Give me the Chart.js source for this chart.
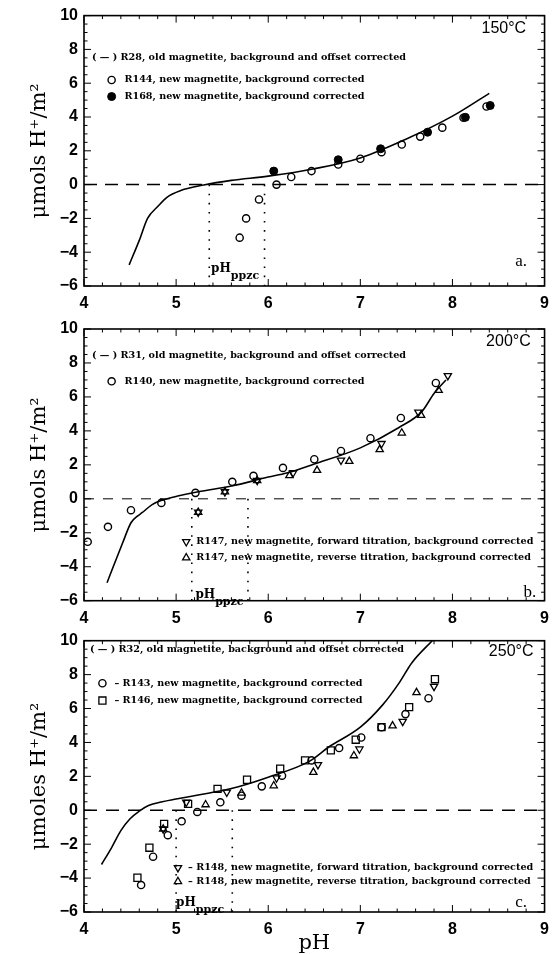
<!DOCTYPE html>
<html>
<head>
<meta charset="utf-8">
<script src="https://cdn.jsdelivr.net/npm/chart.js@4.4.0/dist/chart.umd.min.js"></script>
<style>
  html, body { margin: 0; padding: 0; background: #fff; }
  #wrap { position: relative; width: 557px; height: 954px; }
  canvas { position: absolute; left: 0; }
</style>
</head>
<body>
<div id="wrap">
  <canvas id="chartA" width="557" height="312" style="top:0"></canvas>
  <canvas id="chartB" width="557" height="312" style="top:312px"></canvas>
  <canvas id="chartC" width="557" height="330" style="top:624px"></canvas>
</div>
<script>
// Tick labels shared by all three panels
const phTicks = [4, 5, 6, 7, 8, 9];
const yTicks = [-6, -4, -2, 0, 2, 4, 6, 8, 10];

// Panel a - 150 C
const phR28 = [4.49, 4.6, 4.69, 4.8, 4.9, 5.05, 5.3, 5.6, 6.0, 6.5, 7.0, 7.5, 8.0, 8.4];
const yR28 = [-4.75, -3.3, -2.0, -1.3, -0.75, -0.35, -0.02, 0.25, 0.5, 0.94, 1.58, 2.7, 4.05, 5.4];
const phR144 = [5.69, 5.76, 5.90, 6.09, 6.25, 6.47, 6.76, 7.0, 7.23, 7.45, 7.65, 7.89, 8.12, 8.37];
const yR144 = [-3.14, -2.0, -0.88, 0.0, 0.45, 0.8, 1.19, 1.53, 1.92, 2.37, 2.84, 3.37, 3.96, 4.62];
const phR168 = [6.06, 6.76, 7.22, 7.73, 8.14, 8.41];
const yR168 = [0.8, 1.47, 2.12, 3.1, 3.98, 4.68];
const ppzcA = [5.36, 5.96];

// Panel b - 200 C
const phR31 = [4.25, 4.42, 4.51, 4.58, 4.63, 4.74, 4.85, 5.03, 5.24, 5.6, 6.0, 6.2, 6.5, 7.0, 7.42, 7.67, 7.8, 7.93];
const yR31 = [-4.94, -2.59, -1.41, -1.02, -0.82, -0.34, -0.08, 0.18, 0.42, 0.75, 1.28, 1.52, 2.05, 3.0, 4.2, 5.15, 6.2, 7.0];
const phR140 = [4.04, 4.26, 4.51, 4.84, 5.21, 5.61, 5.84, 6.16, 6.50, 6.79, 7.11, 7.44, 7.82];
const yR140 = [-2.53, -1.65, -0.67, -0.24, 0.35, 1.0, 1.35, 1.82, 2.33, 2.82, 3.57, 4.76, 6.82];
const phR147f = [5.24, 5.53, 5.88, 6.27, 6.79, 7.23, 7.63, 7.95];
const yR147f = [-0.79, 0.41, 1.08, 1.53, 2.27, 3.25, 5.1, 7.25];
const phR147r = [5.24, 5.53, 5.88, 6.23, 6.53, 6.88, 7.21, 7.45, 7.66, 7.85];
const yR147r = [-0.79, 0.41, 1.08, 1.37, 1.68, 2.21, 2.9, 3.88, 4.92, 6.39];
const ppzcB = [5.17, 5.78];

// Panel c - 250 C
const phR32 = [4.19, 4.3, 4.4, 4.5, 4.6, 4.7, 4.85, 5.0, 5.24, 5.6, 6.0, 6.45, 6.65, 7.0, 7.24, 7.42, 7.56, 7.78];
const yR32 = [-3.2, -2.2, -1.2, -0.5, -0.05, 0.28, 0.5, 0.66, 0.9, 1.28, 1.95, 2.9, 3.7, 4.9, 6.2, 7.5, 8.7, 10];
const phR143 = [4.62, 4.75, 4.91, 5.06, 5.23, 5.48, 5.71, 5.93, 6.15, 6.47, 6.77, 7.01, 7.23, 7.49, 7.74];
const yR143 = [-4.41, -2.74, -1.47, -0.65, -0.1, 0.47, 0.86, 1.41, 2.04, 2.94, 3.67, 4.29, 4.9, 5.67, 6.61];
const phR146 = [4.58, 4.71, 4.87, 5.13, 5.45, 5.77, 6.13, 6.40, 6.68, 6.95, 7.23, 7.53, 7.81];
const yR146 = [-3.98, -2.21, -0.8, 0.38, 1.26, 1.8, 2.45, 2.94, 3.53, 4.16, 4.9, 6.08, 7.73];
const phR148f = [4.86, 5.11, 5.55, 6.09, 6.54, 6.99, 7.46, 7.80];
const yR148f = [-1.1, 0.47, 1.06, 1.9, 2.69, 3.61, 5.24, 7.3];
const phR148r = [4.86, 5.32, 5.71, 6.06, 6.49, 6.93, 7.35, 7.61];
const yR148r = [-1.1, 0.33, 1.02, 1.45, 2.24, 3.22, 4.98, 6.94];
const ppzcC = [5.0, 5.61];

const pts = (xs, ys) => xs.map((x, i) => ({ x: x, y: ys[i] }));

const LEG_FONT = 'bold 9.6px "DejaVu Serif"';

// marker styles used by both datasets and the legend
const markers = {
    circle: { pointStyle: 'circle', pointRadius: 3.6, pointBorderWidth: 1.4, fill: 'rgba(0,0,0,0)', rot: 0 },
    dot: { pointStyle: 'circle', pointRadius: 4, pointBorderWidth: 1, fill: '#000', rot: 0 },
    up: { pointStyle: 'triangle', pointRadius: 4.2, pointBorderWidth: 1.3, fill: 'rgba(0,0,0,0)', rot: 0 },
    down: { pointStyle: 'triangle', pointRadius: 4.2, pointBorderWidth: 1.3, fill: 'rgba(0,0,0,0)', rot: 180 },
    square: { pointStyle: 'rect', pointRadius: 5, pointBorderWidth: 1.3, fill: 'rgba(0,0,0,0)', rot: 0 }
};

function lineSet(xs, ys) {
    return {
        data: pts(xs, ys), showLine: true, pointRadius: 0, borderColor: '#000',
        borderWidth: 1.6, cubicInterpolationMode: 'monotone', order: 2
    };
}

function markSet(xs, ys, kind) {
    const m = markers[kind];
    return {
        data: pts(xs, ys), showLine: false, pointStyle: m.pointStyle, pointRadius: m.pointRadius,
        pointBorderWidth: m.pointBorderWidth, pointBackgroundColor: m.fill, pointBorderColor: '#000',
        pointRotation: m.rot, order: 1
    };
}

function zeroSet(dash, width) {
    return {
        data: pts([4, 9], [0, 0]), showLine: true, pointRadius: 0, borderColor: '#000',
        borderWidth: width, borderDash: dash, order: 3
    };
}

function ppzcSets(xs) {
    return xs.map(v => ({
        data: pts([v, v], [0, -6]), showLine: true, pointRadius: 0, borderColor: '#000',
        borderWidth: 1.6, borderDash: [1.6, 7.5], order: 3
    }));
}

function drawSym(ctx, kind, px, py) {
    const m = markers[kind];
    const r = m.pointRadius;
    ctx.beginPath();
    if (kind === 'circle' || kind === 'dot') {
        ctx.arc(px, py, r, 0, Math.PI * 2);
    } else if (kind === 'square') {
        const s = r * Math.SQRT1_2;
        ctx.rect(px - s, py - s, 2 * s, 2 * s);
    } else {
        const sgn = kind === 'up' ? 1 : -1;
        for (let k = 0; k < 3; k++) {
            const a = -Math.PI / 2 + k * 2 * Math.PI / 3;
            const xx = px + r * Math.cos(a);
            const yy = py + sgn * r * Math.sin(a);
            if (k === 0) ctx.moveTo(xx, yy); else ctx.lineTo(xx, yy);
        }
        ctx.closePath();
    }
    ctx.lineWidth = m.pointBorderWidth;
    ctx.fillStyle = m.fill;
    ctx.fill();
    ctx.stroke();
}

// frame, inward ticks and the annotations of each panel
const panelDecor = {
    id: 'panelDecor',
    afterDraw(chart, args, opts) {
        const { ctx, chartArea: a, scales: { x, y } } = chart;
        ctx.save();
        ctx.strokeStyle = '#000';
        ctx.fillStyle = '#000';
        ctx.lineWidth = 1;
        for (let i = 0; i <= 25; i++) {
            const v = 4 + i * 0.2;
            const px = x.getPixelForValue(v);
            const len = i % 5 === 0 ? 7 : 3.5;
            ctx.beginPath();
            ctx.moveTo(px, a.bottom); ctx.lineTo(px, a.bottom - len);
            ctx.moveTo(px, a.top); ctx.lineTo(px, a.top + len);
            ctx.stroke();
        }
        for (let i = 0; i <= 32; i++) {
            const v = -6 + i * 0.5;
            const py = y.getPixelForValue(v);
            const len = i % 4 === 0 ? 7 : 3.5;
            ctx.beginPath();
            ctx.moveTo(a.left, py); ctx.lineTo(a.left + len, py);
            ctx.moveTo(a.right, py); ctx.lineTo(a.right - len, py);
            ctx.stroke();
        }
        ctx.lineWidth = 1.6;
        ctx.strokeRect(a.left, a.top, a.right - a.left, a.bottom - a.top);

        ctx.textBaseline = 'middle';
        (opts.items || []).forEach(it => {
            const px = x.getPixelForValue(it.x);
            const py = y.getPixelForValue(it.y);
            if (it.sym) {
                ctx.strokeStyle = '#000';
                drawSym(ctx, it.sym, px, py);
                ctx.fillStyle = '#000';
            }
            if (it.text) {
                ctx.font = it.font || LEG_FONT;
                ctx.textAlign = it.align || 'left';
                ctx.fillText(it.text, px, py);
            }
            if (it.ppzc) {
                ctx.textAlign = 'left';
                ctx.textBaseline = 'alphabetic';
                ctx.font = 'bold 12px "DejaVu Serif"';
                ctx.fillText('pH', px, py);
                const w = ctx.measureText('pH').width;
                ctx.font = 'bold 11px "DejaVu Serif"';
                ctx.fillText('ppzc', px + w, py + 7);
                ctx.textBaseline = 'middle';
            }
        });
        ctx.restore();
    }
};

function makePanel(id, cfg) {
    const yTitle = {
        display: true, text: cfg.yLabel, color: '#000',
        font: { family: 'DejaVu Serif', size: 21, lineHeight: 1 },
        padding: { top: 29, bottom: 0 }
    };
    return new Chart(document.getElementById(id), {
        type: 'scatter',
        data: { datasets: cfg.datasets },
        options: {
            responsive: false,
            animation: false,
            events: [],
            layout: { padding: { top: cfg.padTop, right: 6, left: 0, bottom: 0 } },
            plugins: {
                legend: { display: false },
                tooltip: { enabled: false },
                panelDecor: { items: cfg.items }
            },
            scales: {
                x: {
                    type: 'linear', min: 4, max: 9,
                    grid: { display: false, drawTicks: false },
                    border: { display: false },
                    afterBuildTicks: s => { s.ticks = phTicks.map(v => ({ value: v })); },
                    afterFit: s => { s.height = cfg.xAxisH; },
                    ticks: {
                        color: '#000', padding: 8, maxRotation: 0,
                        font: { family: 'Liberation Sans', size: 16, weight: 'bold' }
                    },
                    title: {
                        display: !!cfg.xLabel, text: cfg.xLabel || '', color: '#000',
                        font: { family: 'DejaVu Serif', size: 21, lineHeight: 1 },
                        padding: { top: 0, bottom: 0 }
                    }
                },
                y: {
                    type: 'linear', min: -6, max: 10,
                    grid: { display: false, drawTicks: false },
                    border: { display: false },
                    afterBuildTicks: s => { s.ticks = yTicks.map(v => ({ value: v })); },
                    afterFit: s => { s.width = 84; },
                    ticks: {
                        color: '#000', padding: 6,
                        font: { family: 'Liberation Sans', size: 16, weight: 'bold' },
                        callback: v => String(v).replace('-', '\u2212')
                    },
                    title: yTitle
                }
            }
        },
        plugins: [panelDecor]
    });
}

document.addEventListener('DOMContentLoaded', function () {
    makePanel('chartA', {
        padTop: 14, xAxisH: 26,
        yLabel: '\u03bcmols H\u207a/m\u00b2',
        datasets: [
            zeroSet([13, 8], 1.5), ...ppzcSets(ppzcA),
            lineSet(phR28, yR28),
            markSet(phR144, yR144, 'circle'),
            markSet(phR168, yR168, 'dot')
        ],
        items: [
            { x: 4.086, y: 7.55, text: '( \u2014 ) R28, old magnetite, background and offset corrected' },
            { x: 4.30, y: 6.19, sym: 'circle' },
            { x: 4.44, y: 6.19, text: 'R144, new magnetite, background corrected' },
            { x: 4.30, y: 5.21, sym: 'dot' },
            { x: 4.44, y: 5.21, text: 'R168, new magnetite, background corrected' },
            { x: 8.80, y: 9.25, text: '150\u00b0C', align: 'right', font: '16px "Liberation Sans"' },
            { x: 8.81, y: -4.57, text: 'a.', align: 'right', font: '17px "Liberation Serif"' },
            { x: 5.38, y: -5.2, ppzc: true }
        ]
    });

    makePanel('chartB', {
        padTop: 17, xAxisH: 23.3,
        yLabel: '\u03bcmols H\u207a/m\u00b2',
        datasets: [
            zeroSet([10, 9], 1), ...ppzcSets(ppzcB),
            lineSet(phR31, yR31),
            markSet(phR140, yR140, 'circle'),
            markSet(phR147f, yR147f, 'down'),
            markSet(phR147r, yR147r, 'up')
        ],
        items: [
            { x: 4.086, y: 8.45, text: '( \u2014 ) R31, old magnetite, background and offset corrected' },
            { x: 4.30, y: 6.92, sym: 'circle' },
            { x: 4.44, y: 6.92, text: 'R140, new magnetite, background corrected' },
            { x: 5.11, y: -2.53, sym: 'down' },
            { x: 5.22, y: -2.53, text: 'R147, new magnetite, forward titration, background corrected' },
            { x: 5.11, y: -3.47, sym: 'up' },
            { x: 5.22, y: -3.47, text: 'R147, new magnetite, reverse titration, background corrected' },
            { x: 8.85, y: 9.25, text: '200\u00b0C', align: 'right', font: '16px "Liberation Sans"' },
            { x: 8.91, y: -5.51, text: 'b.', align: 'right', font: '17px "Liberation Serif"' },
            { x: 5.21, y: -5.82, ppzc: true }
        ]
    });

    makePanel('chartC', {
        padTop: 16.7, xAxisH: 42,
        yLabel: '\u03bcmoles H\u207a/m\u00b2',
        xLabel: 'pH',
        datasets: [
            zeroSet([13, 9], 1.5), ...ppzcSets(ppzcC),
            lineSet(phR32, yR32),
            markSet(phR143, yR143, 'circle'),
            markSet(phR146, yR146, 'square'),
            markSet(phR148f, yR148f, 'down'),
            markSet(phR148r, yR148r, 'up')
        ],
        items: [
            { x: 4.064, y: 9.49, text: '( \u2014 ) R32, old magnetite, background and offset corrected' },
            { x: 4.20, y: 7.49, sym: 'circle' },
            { x: 4.33, y: 7.49, text: '\u2013 R143, new magnetite, background corrected' },
            { x: 4.20, y: 6.47, sym: 'square' },
            { x: 4.33, y: 6.47, text: '\u2013 R146, new magnetite, background corrected' },
            { x: 5.02, y: -3.39, sym: 'down' },
            { x: 5.13, y: -3.39, text: '\u2013 R148, new magnetite, forward titration, background corrected' },
            { x: 5.02, y: -4.2, sym: 'up' },
            { x: 5.13, y: -4.2, text: '\u2013 R148, new magnetite, reverse titration, background corrected' },
            { x: 8.88, y: 9.34, text: '250\u00b0C', align: 'right', font: '16px "Liberation Sans"' },
            { x: 8.81, y: -5.44, text: 'c.', align: 'right', font: '17px "Liberation Serif"' },
            { x: 5.0, y: -5.65, ppzc: true }
        ]
    });
});
</script>
</body>
</html>
